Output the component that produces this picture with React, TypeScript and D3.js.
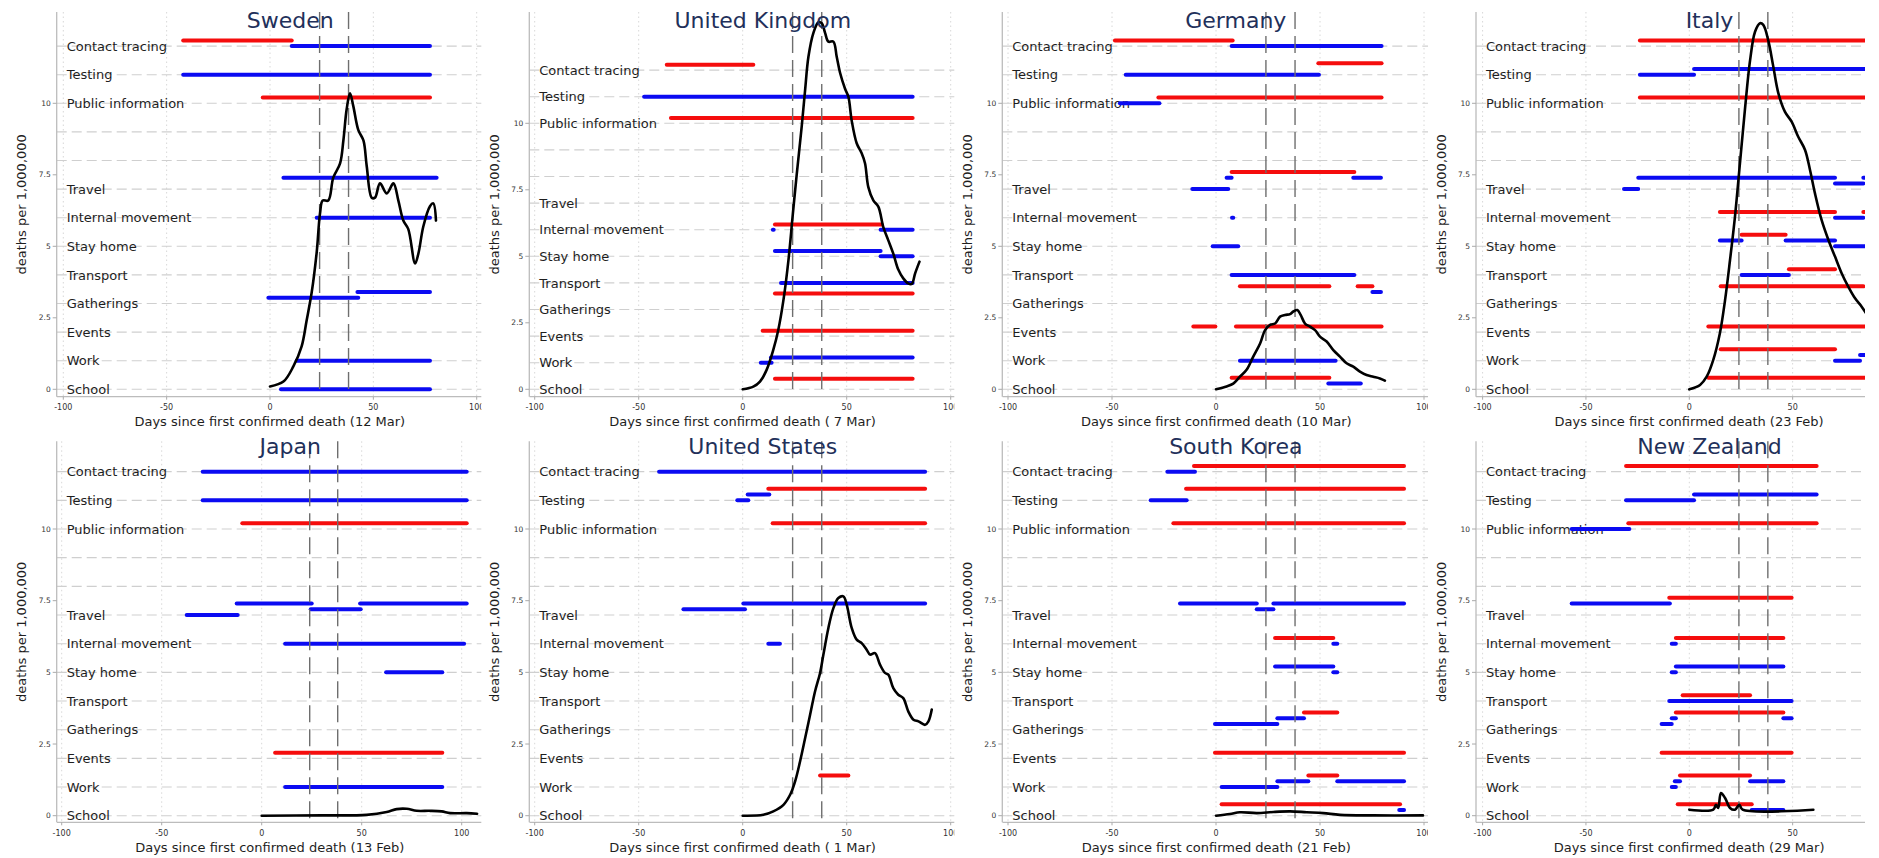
import React from "react";
import * as d3 from "d3";

// ---------------- data ----------------
const COUNTRIES = ["Sweden", "United Kingdom", "Germany", "Italy", "Japan", "United States", "South Korea", "New Zealand"];
const FIRST_DEATH = ["12 Mar", " 7 Mar", "10 Mar", "23 Feb", "13 Feb", " 1 Mar", "21 Feb", "29 Mar"];
const CATEGORY_NAMES = ["School", "Work", "Events", "Gatherings", "Transport", "Stay home", "Internal movement", "Travel", "Public information", "Testing", "Contact tracing"];
const CATEGORY_Y = [0, 1, 2, 3, 4, 5, 6, 7, 10, 11, 12];
const GRID_Y = [0, 1, 2, 3, 4, 5, 6, 7, 8, 9, 10, 11, 12];
const X_TICKS = [-100, -50, 0, 50, 100];
const Y_TICKS = [0, 2.5, 5, 7.5, 10];
const REFERENCE_DAYS = [24, 38];

// bars: [category y, level offset, start day, end day, colour r|b]
type Bar = [number, number, number, number, string];

const SWEDEN_BARS: Bar[] = [
  [12, 0.2, -42, 10.5, "r"], [12, 0, 10.5, 77.4, "b"], [11, 0, -42, 77.4, "b"], [10, 0.2, -3.5, 77.4, "r"],
  [7, 0.4, 6.5, 80.6, "b"], [6, 0, 22.6, 77.4, "b"], [3, 0.2, -0.8, 42.7, "b"], [3, 0.4, 42.3, 77.4, "b"],
  [1, 0, 12.9, 77.4, "b"], [0, 0, 5.3, 77.4, "b"],
];
const UK_BARS: Bar[] = [
  [12, 0.2, -36.5, 5.1, "r"], [11, 0, -47.4, 81.7, "b"], [10, 0.2, -34.5, 81.7, "r"],
  [6, 0.2, 15.5, 66.8, "r"], [6, 0, 14.5, 14.9, "b"], [6, 0, 66.3, 81.7, "b"],
  [5, 0.2, 15.5, 66.3, "b"], [5, 0, 66.3, 81.7, "b"], [4, 0, 18.4, 81.7, "b"], [3, 0.6, 15.5, 81.7, "r"],
  [2, 0.2, 9.6, 81.7, "r"], [1, 0.2, 13.6, 81.7, "b"], [1, 0, 8.7, 13.9, "b"], [0, 0.4, 15.5, 81.7, "r"],
];
const GERMANY_BARS: Bar[] = [
  [12, 0.2, -48.6, 8, "r"], [12, 0, 7.5, 79.6, "b"], [11, 0.4, 49.2, 79.6, "r"], [11, 0, -43.4, 49.5, "b"],
  [10, 0, -46.2, -27.2, "b"], [10, 0.2, -27.7, 79.6, "r"],
  [7, 0.6, 7.5, 66.5, "r"], [7, 0.4, 5.1, 7.5, "b"], [7, 0.4, 66, 79.3, "b"], [7, 0, -11.4, 5.9, "b"],
  [6, 0, 7.7, 8.3, "b"], [5, 0, -1.6, 10.7, "b"], [4, 0, 7.5, 66.5, "b"],
  [3, 0.6, 11.5, 54.5, "r"], [3, 0.6, 68.1, 75.2, "r"], [3, 0.4, 75.2, 79.3, "b"],
  [2, 0.2, -10.9, -0.3, "r"], [2, 0.2, 9.6, 79.6, "r"], [1, 0, 11.5, 57.5, "b"],
  [0, 0.4, 7.5, 54.5, "r"], [0, 0.2, 54, 69.6, "b"],
];
const ITALY_BARS: Bar[] = [
  [12, 0.2, -23.9, 95, "r"], [11, 0, -23.9, 2.3, "b"], [11, 0.2, 2.3, 95, "b"], [10, 0.2, -23.9, 95, "r"],
  [7, 0.4, -24.7, 70.5, "b"], [7, 0.2, 70.5, 84.2, "b"], [7, 0.4, 84.2, 95, "b"], [7, 0, -31.6, -24.7, "b"],
  [6, 0.2, 14.8, 70.5, "r"], [6, 0, 70.5, 84.2, "b"], [6, 0.2, 84.2, 95, "r"],
  [5, 0.4, 25.3, 46.6, "r"], [5, 0.2, 14.8, 25.3, "b"], [5, 0.2, 46.6, 70.5, "b"], [5, 0, 70.5, 95, "b"],
  [4, 0.2, 48.2, 70.5, "r"], [4, 0, 25.3, 48.2, "b"], [3, 0.6, 15.2, 84.2, "r"], [2, 0.2, 9.2, 95, "r"],
  [1, 0.4, 15.2, 70.5, "r"], [1, 0, 70.5, 82.6, "b"], [1, 0.2, 82.6, 95, "b"], [0, 0.4, 9.2, 95, "r"],
];
const JAPAN_BARS: Bar[] = [
  [12, 0, -29.5, 102.5, "b"], [11, 0, -29.5, 102.5, "b"], [10, 0.2, -9.7, 102.5, "r"],
  [7, 0.4, -12.5, 25, "b"], [7, 0.2, 24.5, 49.5, "b"], [7, 0.4, 49.2, 102.5, "b"], [7, 0, -37.5, -12, "b"],
  [6, 0, 11.7, 101.2, "b"], [5, 0, 62.2, 90.3, "b"], [2, 0.2, 6.7, 90.3, "r"], [1, 0, 11.7, 90.3, "b"],
];
const US_BARS: Bar[] = [
  [12, 0, -40.2, 87.7, "b"], [11, 0, -2.6, 2.7, "b"], [11, 0.2, 2.4, 12.8, "b"], [11, 0.4, 12.3, 87.7, "r"],
  [10, 0.2, 14.4, 87.7, "r"], [7, 0.2, -28.5, 1.1, "b"], [7, 0.4, 0.3, 87.7, "b"], [6, 0, 12.3, 17.9, "b"],
  [1, 0.4, 37.2, 50.8, "r"],
];
const KOREA_BARS: Bar[] = [
  [12, 0, -23.4, -10.1, "b"], [12, 0.2, -10.6, 90.4, "r"], [11, 0, -31.4, -14.1, "b"], [11, 0.4, -14.4, 90.4, "r"],
  [10, 0.2, -20.5, 90.4, "r"], [7, 0.4, -17.3, 19.6, "b"], [7, 0.2, 19.6, 27.6, "b"], [7, 0.4, 27.6, 90.4, "b"],
  [6, 0.2, 28.4, 56.4, "r"], [6, 0, 56.4, 58.3, "b"], [5, 0.2, 28.4, 56.4, "b"], [5, 0, 56.4, 58.3, "b"],
  [3, 0.6, 42.3, 58.3, "r"], [3, 0.4, 29.5, 42.3, "b"], [3, 0.2, -0.5, 29.5, "b"], [2, 0.2, -0.5, 90.4, "r"],
  [1, 0.4, 44.4, 58.3, "r"], [1, 0.2, 29.5, 44.4, "b"], [1, 0.2, 58.3, 90.4, "b"], [1, 0, 2.7, 29.5, "b"],
  [0, 0.4, 2.7, 88.5, "r"], [0, 0.2, 88.1, 90.4, "b"],
];
const NZ_BARS: Bar[] = [
  [12, 0.2, -30.6, 61.6, "r"], [11, 0, -30.6, 2.3, "b"], [11, 0.2, 2.3, 61.6, "b"],
  [10, 0, -56.9, -29, "b"], [10, 0.2, -29.5, 61.6, "r"], [7, 0.4, -56.9, -9.4, "b"], [7, 0.6, -9.7, 49.5, "r"],
  [6, 0.2, -6.5, 45.5, "r"], [6, 0, -8.5, -6.5, "b"], [5, 0.2, -6.5, 45.5, "b"], [5, 0, -8.5, -6.5, "b"],
  [4, 0.2, -3.2, 29.4, "r"], [4, 0, -9.7, 49.5, "b"], [3, 0.6, -6.5, 45.5, "r"], [3, 0.4, -8.5, -6.5, "b"],
  [3, 0.4, 45.5, 49.5, "b"], [3, 0.2, -13.4, -8.5, "b"], [2, 0.2, -13.4, 49.5, "r"],
  [1, 0.4, -4.5, 29.4, "r"], [1, 0.2, 29.4, 45.5, "b"], [1, 0.2, -7, -4.5, "b"], [1, 0, -8.5, -6.5, "b"],
  [0, 0.4, -5.6, 30.2, "r"], [0, 0.2, 30.2, 45.5, "b"],
];

// deaths per 1,000,000: [day, value]
const SWEDEN_DEATHS: [number, number][] = [
  [0, 0.1], [6.5, 0.27], [11.3, 0.8], [15.3, 1.5], [17.7, 2.4], [20.2, 3.4], [22.6, 4.8], [24.2, 6.15], [25.5, 6.6],
  [28.2, 6.6], [30.6, 7.4], [33.9, 7.9], [35.5, 8.7], [37.1, 9.8], [38.7, 10.35], [40.3, 9.9], [42.7, 9.07],
  [45.2, 8.7], [46.8, 7.8], [49.2, 6.7], [50.8, 6.7], [53.2, 7.2], [56.5, 6.85], [59.7, 7.2], [62.1, 6.6],
  [64.5, 5.9], [66.9, 5.6], [70.2, 4.4], [71.8, 4.75], [74.2, 5.7], [77.4, 6.4], [79, 6.5], [80.3, 5.9],
];
const UK_DEATHS: [number, number][] = [
  [0, 0], [5.1, 0.1], [8.3, 0.29], [11.5, 0.73], [14.7, 1.48], [17.1, 2.23], [19.6, 3.36], [22, 4.86], [24, 6.5],
  [26, 8.1], [28.4, 9.9], [30, 11.25], [31.6, 12.5], [34, 13.4], [36.4, 13.8], [38, 13.76], [39.6, 13.4],
  [41.2, 13.07], [43.6, 13.07], [45.2, 12.5], [46.8, 11.9], [49.2, 11.3], [50.8, 11], [52.4, 10.1], [54.8, 9.25],
  [57.2, 8.87], [58.8, 8.5], [60.4, 7.6], [62.8, 7.1], [65.2, 6.87], [67.6, 6.1], [70, 5.6], [72.4, 5.1],
  [74.8, 4.5], [77.2, 4.17], [79.6, 3.98], [81.3, 3.96], [82.9, 4.36], [85, 4.8],
];
const GERMANY_DEATHS: [number, number][] = [
  [0, 0], [5.1, 0.1], [8.3, 0.2], [11.5, 0.44], [14.7, 0.68], [17.9, 1.14], [21.2, 1.6], [23.6, 2.07], [26, 2.25],
  [28.4, 2.3], [30.8, 2.54], [33.2, 2.6], [35.6, 2.63], [37.2, 2.72], [39.1, 2.77], [40.7, 2.6], [42.8, 2.3],
  [45.2, 2.19], [47.6, 2.07], [50, 1.84], [53.2, 1.67], [56.4, 1.37], [59.6, 1.14], [62.8, 0.91], [66, 0.79],
  [69.2, 0.62], [72.4, 0.5], [75.6, 0.44], [78.8, 0.38], [81.2, 0.3],
];
const ITALY_DEATHS: [number, number][] = [
  [0, 0], [5.2, 0.15], [8.4, 0.44], [11.6, 1.03], [14.8, 1.96], [17.3, 3.12], [19.7, 4.52], [22.1, 6.04],
  [24.5, 7.9], [26.9, 9.77], [29.4, 11.5], [31.8, 12.5], [34.2, 12.8], [35.8, 12.74], [38.2, 12.2], [40.6, 11.3],
  [43.1, 10.35], [46.3, 9.7], [49.5, 9.36], [52.7, 8.83], [56, 8.37], [58.4, 7.67], [60.8, 6.85], [64, 5.92],
  [67.3, 5.22], [70.5, 4.64], [73.7, 4.06], [76.9, 3.59], [80.2, 3.18], [83.4, 2.89], [86, 2.6],
];
const JAPAN_DEATHS: [number, number][] = [
  [0, 0], [30, 0.01], [52.5, 0.03], [62.5, 0.13], [67.5, 0.23], [72.5, 0.24], [77.5, 0.17], [84.2, 0.17],
  [90, 0.15], [94.2, 0.09], [102.5, 0.09], [107.7, 0.07],
];
const US_DEATHS: [number, number][] = [
  [0, 0], [9.9, 0.03], [14.7, 0.15], [19.6, 0.38], [22.8, 0.73], [25.2, 1.2], [27.6, 1.9], [30, 2.7], [32.4, 3.52],
  [34.8, 4.34], [37.2, 4.98], [38.8, 5.62], [41.2, 6.55], [43.6, 7.24], [46, 7.59], [48.4, 7.65], [50, 7.36],
  [52.4, 6.55], [54.8, 6.14], [57.2, 6.02], [59.6, 5.79], [61.2, 5.62], [63.6, 5.67], [66, 5.27], [68.4, 4.98],
  [70, 4.92], [72.4, 4.45], [74.8, 4.22], [77.2, 4.1], [79.6, 3.64], [82.1, 3.35], [84.5, 3.29], [87.7, 3.17],
  [89.3, 3.29], [90.9, 3.7],
];
const KOREA_DEATHS: [number, number][] = [
  [0, 0], [6.7, 0.06], [11.5, 0.12], [19.6, 0.09], [27.6, 0.13], [35.6, 0.15], [43.6, 0.12], [51.6, 0.09],
  [59.6, 0.03], [75.6, 0.01], [99.5, 0.01],
];
const NZ_DEATHS: [number, number][] = [
  [0, 0.21], [11.6, 0.21], [12.9, 0.38], [14, 0.27], [15.3, 0.79], [17.3, 0.62], [19.7, 0.27], [22.1, 0.21],
  [24.2, 0.38], [25.8, 0.21], [60, 0.21],
];

const ALL_BARS = [SWEDEN_BARS, UK_BARS, GERMANY_BARS, ITALY_BARS, JAPAN_BARS, US_BARS, KOREA_BARS, NZ_BARS];
const ALL_DEATHS = [SWEDEN_DEATHS, UK_DEATHS, GERMANY_DEATHS, ITALY_DEATHS, JAPAN_DEATHS, US_DEATHS, KOREA_DEATHS, NZ_DEATHS];

// ---------------- layout ----------------
const W = 1879;
const H = 858;
const CLIP_RIGHT = 1865;
const ROWS = [
  { zero: 389.3, top: 12, bottom: 396.7, unit: 28.6, titleY: 20, bgTop: 0, bgBottom: 430 },
  { zero: 815.7, top: 441.3, bottom: 822.3, unit: 28.67, titleY: 446.3, bgTop: 430, bgBottom: 858 },
];
const PANELS = [
  { left: 56.7, day0: 270, k: 2.067, row: 0, xmax: 103 },
  { left: 529.3, day0: 742.7, k: 2.08, row: 0, xmax: 102.5, unit: 26.6 },
  { left: 1002.3, day0: 1216, k: 2.08, row: 0, xmax: 103 },
  { left: 1476, day0: 1689.3, k: 2.067, row: 0, xmax: 103 },
  { left: 56.7, day0: 261.7, k: 2.0, row: 1, xmax: 110.6 },
  { left: 529.3, day0: 742.7, k: 2.08, row: 1, xmax: 102.5 },
  { left: 1002.3, day0: 1216, k: 2.08, row: 1, xmax: 103 },
  { left: 1476, day0: 1689.3, k: 2.067, row: 1, xmax: 103 },
];

const FONT = "'DejaVu Sans', Verdana, sans-serif";
const RED = "#f50d0d";
const BLUE = "#0b0bf2";

function Panel({ i }: { i: number }) {
  const p = PANELS[i];
  const r = ROWS[p.row];
  const unit = p.unit ?? r.unit;
  const xmin = (p.left - p.day0) / p.k;
  const right = p.day0 + p.xmax * p.k;
  const x = d3.scaleLinear().domain([xmin, p.xmax]).range([p.left, right]);
  const y = d3
    .scaleLinear()
    .domain([(r.zero - r.bottom) / unit, (r.zero - r.top) / unit])
    .range([r.bottom, r.top]);
  const clipRight = Math.min(right, CLIP_RIGHT);
  const clipId = `clip-${i}`;
  const line = d3
    .line<[number, number]>()
    .x((d) => x(d[0]))
    .y((d) => y(d[1]))
    .curve(d3.curveCatmullRom.alpha(0.5));
  const bars = ALL_BARS[i];
  const deaths = ALL_DEATHS[i];
  const axisMid = (p.left + right) / 2;
  return (
    <g>
      <rect x={p.left - 48} y={r.bgTop} width={W - (p.left - 48)} height={r.bgBottom - r.bgTop} fill="#fff" />
      <defs>
        <clipPath id={clipId}>
          <rect x={p.left} y={r.top - 12} width={clipRight - p.left} height={r.bottom - r.top + 14} />
        </clipPath>
      </defs>
      <g clipPath={`url(#${clipId})`}>
        {X_TICKS.map((t) => (
          <line key={"vg" + t} x1={x(t)} x2={x(t)} y1={r.top} y2={r.bottom} stroke="#d8d8d8" strokeWidth={1} strokeDasharray="1.5,3" />
        ))}
        {GRID_Y.map((g) => (
          <line key={"hg" + g} x1={p.left} x2={right} y1={y(g)} y2={y(g)} stroke="#cfcfcf" strokeWidth={1.1} strokeDasharray="10,5" />
        ))}
        {CATEGORY_NAMES.map((name, j) => (
          <text key={name} x={p.left + 10} y={y(CATEGORY_Y[j])} dy="0.36em" fontSize={13} fill="#1e1e1e" fontFamily={FONT}>
            {name}
          </text>
        ))}
        {bars.map((b, j) => (
          <line
            key={"b" + j}
            x1={x(b[2])}
            x2={x(b[3])}
            y1={y(b[0] + b[1])}
            y2={y(b[0] + b[1])}
            stroke={b[4] === "r" ? RED : BLUE}
            strokeWidth={4}
            strokeLinecap="round"
          />
        ))}
        {REFERENCE_DAYS.map((d) => (
          <line key={"rd" + d} x1={x(d)} x2={x(d)} y1={r.top} y2={r.bottom} stroke="#6e6e6e" strokeWidth={1.4} strokeDasharray="17,7" />
        ))}
        <path d={line(deaths) ?? ""} fill="none" stroke="#000" strokeWidth={2.6} strokeLinejoin="round" strokeLinecap="round" />
        <line x1={p.left} x2={right} y1={r.bottom} y2={r.bottom} stroke="#bcbcbc" strokeWidth={1.3} />
      </g>
      <line x1={p.left} x2={p.left} y1={r.top} y2={r.bottom} stroke="#bcbcbc" strokeWidth={1.3} />
      {Y_TICKS.map((t) => (
        <g key={"yt" + t}>
          <line x1={p.left - 4} x2={p.left} y1={y(t)} y2={y(t)} stroke="#aaa" strokeWidth={1} />
          <text x={p.left - 6} y={y(t)} dy="0.35em" fontSize={7.5} textAnchor="end" fill="#333" fontFamily={FONT}>
            {t}
          </text>
        </g>
      ))}
      {X_TICKS.filter((t) => x(t) <= clipRight).map((t) => (
        <g key={"xt" + t}>
          <line x1={x(t)} x2={x(t)} y1={r.bottom} y2={r.bottom + 3} stroke="#aaa" strokeWidth={1} />
          <text x={x(t)} y={r.bottom + 10.5} dy="0.35em" fontSize={8} textAnchor="middle" fill="#333" fontFamily={FONT}>
            {t < 0 ? "-" + Math.abs(t) : t}
          </text>
        </g>
      ))}
      <text x={axisMid} y={r.bottom + 25} dy="0.35em" fontSize={13} textAnchor="middle" fill="#1e1e1e" fontFamily={FONT}>
        {`Days since first confirmed death (${FIRST_DEATH[i]})`}
      </text>
      <text
        transform={`translate(${p.left - 35},${(r.top + r.bottom) / 2}) rotate(-90)`}
        dy="0.35em"
        fontSize={13}
        textAnchor="middle"
        fill="#1e1e1e"
        fontFamily={FONT}
      >
        deaths per 1,000,000
      </text>
      <text x={p.left + 233.5} y={r.titleY} dy="0.36em" fontSize={22} textAnchor="middle" fill="#22305a" fontFamily={FONT}>
        {COUNTRIES[i]}
      </text>
    </g>
  );
}

export default function App() {
  return (
    <div style={{ position: "fixed", left: 0, top: 0, width: W, height: H, background: "#fff" }}>
      <svg width={W} height={H} viewBox={`0 0 ${W} ${H}`} style={{ display: "block" }}>
        <rect x={0} y={0} width={W} height={H} fill="#fff" />
        {COUNTRIES.map((c, i) => (
          <Panel key={c} i={i} />
        ))}
      </svg>
    </div>
  );
}
